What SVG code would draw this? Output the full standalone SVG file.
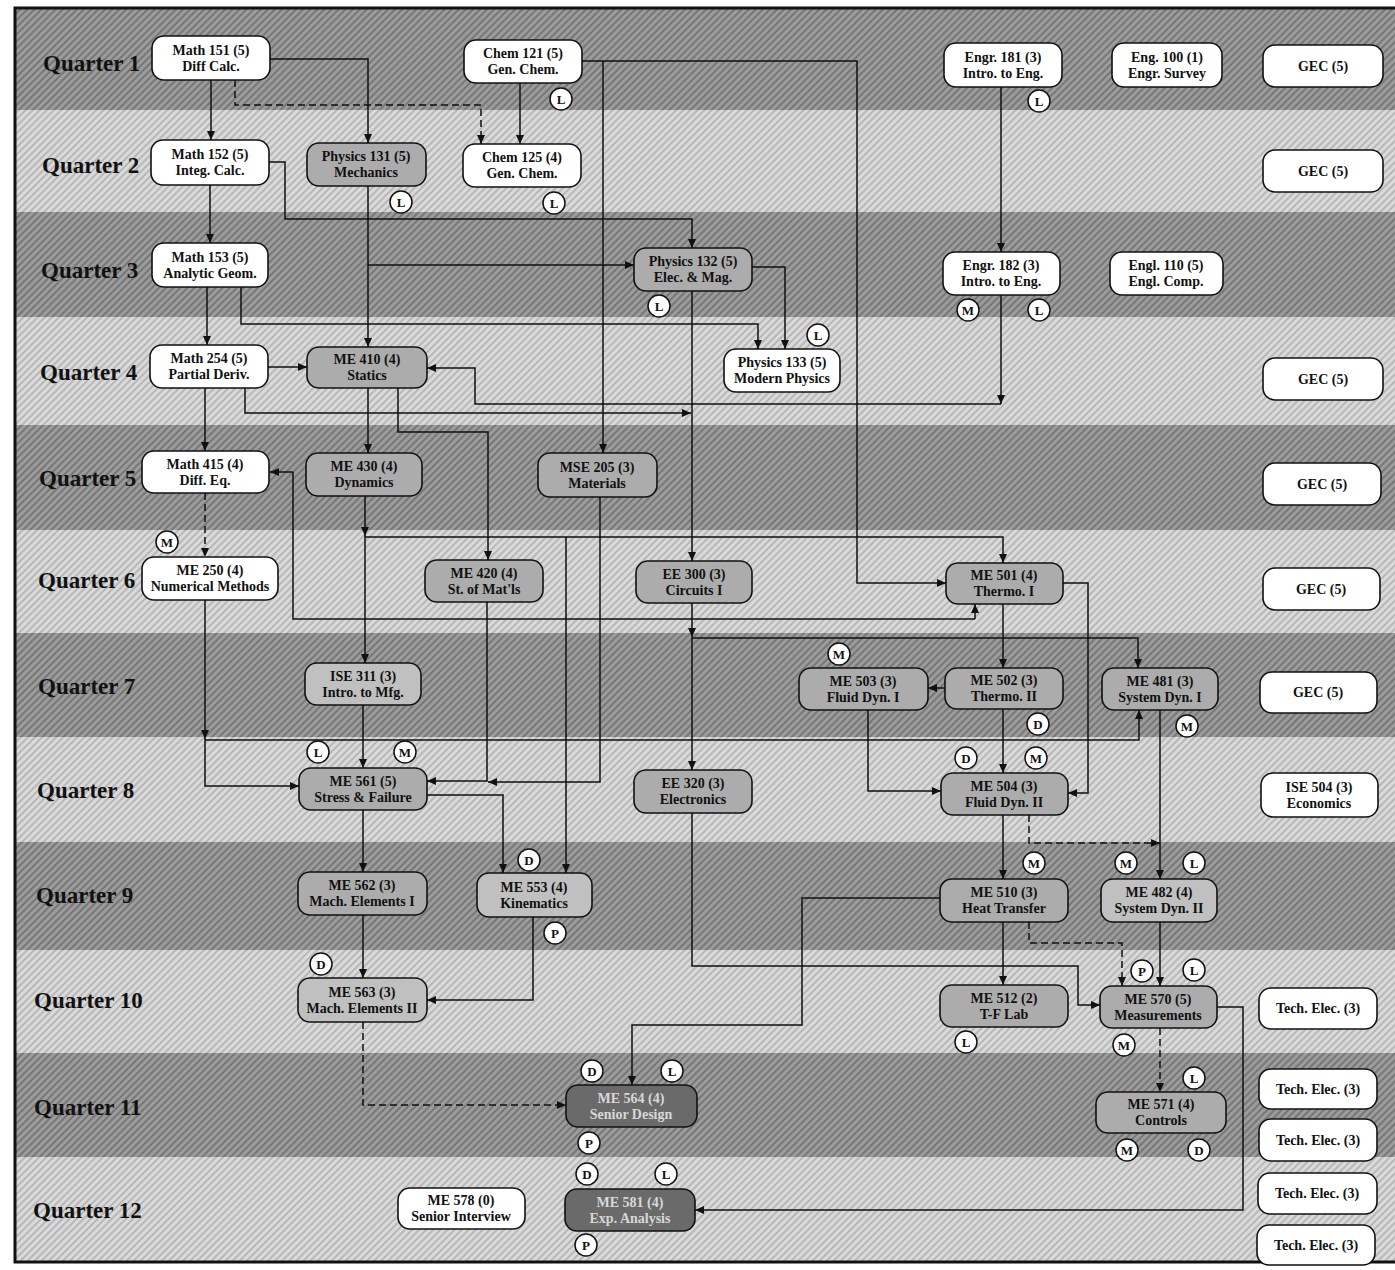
<svg xmlns="http://www.w3.org/2000/svg" width="1395" height="1270" viewBox="0 0 1395 1270">
<defs>
<pattern id="hd" width="5" height="5" patternUnits="userSpaceOnUse" patternTransform="rotate(45)">
<rect width="5" height="5" fill="#9c9c9c"/><line x1="1" y1="0" x2="1" y2="5" stroke="#6e6e6e" stroke-width="1.6"/>
</pattern>
<pattern id="hl" width="5" height="5" patternUnits="userSpaceOnUse" patternTransform="rotate(45)">
<rect width="5" height="5" fill="#dadada"/><line x1="1" y1="0" x2="1" y2="5" stroke="#a9a9a9" stroke-width="1.4"/>
</pattern>
<marker id="ar" markerUnits="userSpaceOnUse" markerWidth="10" markerHeight="8" refX="9" refY="4" orient="auto-start-reverse">
<path d="M0,0 L9,4 L0,8 z" fill="#111"/>
</marker>
<style>
.q{font:bold 23px "Liberation Serif",serif;fill:#111}
.n text{font:bold 14px "Liberation Serif",serif;text-anchor:middle;fill:#111}
.n .lt{fill:#d8d8d8}
.box{stroke:#111;stroke-width:1.6}
.w{fill:#fff}.g{fill:#acacac}.lg{fill:#c0c0c0}.dk{fill:#6a6a6a}
.c path{fill:none;stroke:#111;stroke-width:1.5;marker-end:url(#ar)}
.c path.nm{marker-end:none}
.c path.d{stroke-dasharray:7 4}
.b circle{fill:#fff;stroke:#111;stroke-width:1.5}
.b text{font:bold 13px "Liberation Serif",serif;text-anchor:middle;fill:#111}
</style>
</defs>
<rect width="1395" height="1270" fill="#fff"/>
<g id="bands">
<rect x="15" y="8" width="1380" height="102" fill="url(#hd)"/>
<rect x="15" y="110" width="1380" height="102" fill="url(#hl)"/>
<rect x="15" y="212" width="1380" height="105" fill="url(#hd)"/>
<rect x="15" y="317" width="1380" height="108" fill="url(#hl)"/>
<rect x="15" y="425" width="1380" height="105" fill="url(#hd)"/>
<rect x="15" y="530" width="1380" height="103" fill="url(#hl)"/>
<rect x="15" y="633" width="1380" height="104" fill="url(#hd)"/>
<rect x="15" y="737" width="1380" height="105" fill="url(#hl)"/>
<rect x="15" y="842" width="1380" height="108" fill="url(#hd)"/>
<rect x="15" y="950" width="1380" height="103" fill="url(#hl)"/>
<rect x="15" y="1053" width="1380" height="104" fill="url(#hd)"/>
<rect x="15" y="1157" width="1380" height="105" fill="url(#hl)"/>
<rect x="15" y="8" width="1385" height="1254" fill="none" stroke="#111" stroke-width="3"/>
</g>
<g id="quarters">
<text class="q" x="43" y="71">Quarter 1</text>
<text class="q" x="42" y="173">Quarter 2</text>
<text class="q" x="41" y="278">Quarter 3</text>
<text class="q" x="40" y="380">Quarter 4</text>
<text class="q" x="39" y="486">Quarter 5</text>
<text class="q" x="38" y="588">Quarter 6</text>
<text class="q" x="38" y="694">Quarter 7</text>
<text class="q" x="37" y="798">Quarter 8</text>
<text class="q" x="36" y="903">Quarter 9</text>
<text class="q" x="34" y="1008">Quarter 10</text>
<text class="q" x="34" y="1115">Quarter 11</text>
<text class="q" x="33" y="1218">Quarter 12</text>
</g>
<g id="connectors" class="c">
<path d="M211,80 V140"/>
<path d="M270,59 H368 V143"/>
<path class="d" d="M235,80 V105 H481 V144"/>
<path d="M520,83 V144"/>
<path d="M582,61 H857 V583 H946"/>
<path d="M603,61 V453"/>
<path d="M1001,87 V252"/>
<path d="M1001,295 V404"/>
<path d="M1001,404 H475 V368 H427"/>
<path d="M210,185 V243"/>
<path d="M269,162 H285 V219 H692 V248"/>
<path d="M368,186 V347"/>
<path d="M368,265 H634"/>
<path d="M207,287 V345"/>
<path d="M241,287 V324 H758 V349"/>
<path d="M752,267 H785 V349"/>
<path d="M692,291 V561"/>
<path d="M268,367 H307"/>
<path d="M205,388 V451"/>
<path d="M245,388 V413 H691"/>
<path d="M368,388 V453"/>
<path d="M398,388 V432 H488 V560"/>
<path class="d" d="M205,493 V557"/>
<path class="nm" d="M293,472 V619 H975"/>
<path d="M293,472 H270"/>
<path d="M975,619 V604"/>
<path d="M365,496 V536"/>
<path d="M365,536 V663"/>
<path d="M365,537 H1003 V563"/>
<path d="M566,537 V873"/>
<path d="M600,497 V782 H488"/>
<path d="M487,602 V781 H427"/>
<path d="M205,600 V739"/>
<path d="M205,739 V786 H299"/>
<path d="M205,740 H1139 V710"/>
<path d="M363,705 V768"/>
<path d="M692,603 V637"/>
<path d="M692,637 V770"/>
<path d="M692,638 H1138 V668"/>
<path d="M1003,604 V668"/>
<path d="M1063,583 H1088 V793 H1068"/>
<path d="M945,688 H928"/>
<path d="M1003,709 V773"/>
<path d="M868,710 V791 H941"/>
<path d="M1160,710 V879"/>
<path d="M1003,815 V879"/>
<path class="d" d="M1029,815 V843 H1160"/>
<path d="M363,810 V872"/>
<path d="M427,795 H503 V873"/>
<path d="M363,915 V978"/>
<path d="M533,917 V1000 H427"/>
<path class="d" d="M363,1022 V1105 H566"/>
<path d="M1003,922 V985"/>
<path class="d" d="M1029,922 V943 H1122 V986"/>
<path d="M1160,922 V986"/>
<path d="M940,898 H802 V1025 H632 V1085"/>
<path d="M692,813 V966 H1078 V1005 H1100"/>
<path class="d" d="M1160,1028 V1092"/>
<path d="M1217,1007 H1243 V1210 H695"/>
</g>
<g id="nodes">
<g id="math151" class="n"><rect class="box w" x="152" y="36" width="118" height="44" rx="12"/><text x="211" y="55">Math 151 (5)</text><text x="211" y="71">Diff Calc.</text></g>
<g id="chem121" class="n"><rect class="box w" x="464" y="40" width="118" height="43" rx="12"/><text x="523" y="58">Chem 121 (5)</text><text x="523" y="74">Gen. Chem.</text></g>
<g id="engr181" class="n"><rect class="box w" x="944" y="43" width="118" height="44" rx="12"/><text x="1003" y="62">Engr. 181 (3)</text><text x="1003" y="78">Intro. to Eng.</text></g>
<g id="eng100" class="n"><rect class="box w" x="1112" y="43" width="110" height="44" rx="12"/><text x="1167" y="62">Eng. 100 (1)</text><text x="1167" y="78">Engr. Survey</text></g>
<g id="gec1" class="n"><rect class="box w" x="1263" y="45" width="120" height="42" rx="12"/><text x="1323" y="71">GEC (5)</text></g>
<g id="math152" class="n"><rect class="box w" x="151" y="140" width="118" height="45" rx="12"/><text x="210" y="159">Math 152 (5)</text><text x="210" y="175">Integ. Calc.</text></g>
<g id="physics131" class="n"><rect class="box g" x="307" y="143" width="119" height="43" rx="12"/><text x="366" y="161">Physics 131 (5)</text><text x="366" y="177">Mechanics</text></g>
<g id="chem125" class="n"><rect class="box w" x="463" y="144" width="118" height="43" rx="12"/><text x="522" y="162">Chem 125 (4)</text><text x="522" y="178">Gen. Chem.</text></g>
<g id="gec2" class="n"><rect class="box w" x="1263" y="150" width="120" height="42" rx="12"/><text x="1323" y="176">GEC (5)</text></g>
<g id="math153" class="n"><rect class="box w" x="152" y="243" width="116" height="44" rx="12"/><text x="210" y="262">Math 153 (5)</text><text x="210" y="278">Analytic Geom.</text></g>
<g id="physics132" class="n"><rect class="box g" x="634" y="248" width="118" height="43" rx="12"/><text x="693" y="266">Physics 132 (5)</text><text x="693" y="282">Elec. &amp; Mag.</text></g>
<g id="engr182" class="n"><rect class="box w" x="943" y="252" width="117" height="43" rx="12"/><text x="1001" y="270">Engr. 182 (3)</text><text x="1001" y="286">Intro. to Eng.</text></g>
<g id="engl110" class="n"><rect class="box w" x="1110" y="252" width="113" height="43" rx="12"/><text x="1166" y="270">Engl. 110 (5)</text><text x="1166" y="286">Engl. Comp.</text></g>
<g id="math254" class="n"><rect class="box w" x="150" y="345" width="118" height="43" rx="12"/><text x="209" y="363">Math 254 (5)</text><text x="209" y="379">Partial Deriv.</text></g>
<g id="me410" class="n"><rect class="box g" x="307" y="347" width="120" height="41" rx="12"/><text x="367" y="364">ME 410 (4)</text><text x="367" y="380">Statics</text></g>
<g id="physics133" class="n"><rect class="box w" x="724" y="349" width="116" height="43" rx="12"/><text x="782" y="367">Physics 133 (5)</text><text x="782" y="383">Modern Physics</text></g>
<g id="gec4" class="n"><rect class="box w" x="1263" y="358" width="120" height="42" rx="12"/><text x="1323" y="384">GEC (5)</text></g>
<g id="math415" class="n"><rect class="box w" x="142" y="451" width="127" height="42" rx="12"/><text x="205" y="469">Math 415 (4)</text><text x="205" y="485">Diff. Eq.</text></g>
<g id="me430" class="n"><rect class="box g" x="306" y="453" width="116" height="43" rx="12"/><text x="364" y="471">ME 430 (4)</text><text x="364" y="487">Dynamics</text></g>
<g id="mse205" class="n"><rect class="box g" x="538" y="453" width="119" height="44" rx="12"/><text x="597" y="472">MSE 205 (3)</text><text x="597" y="488">Materials</text></g>
<g id="gec5" class="n"><rect class="box w" x="1263" y="463" width="118" height="42" rx="12"/><text x="1322" y="489">GEC (5)</text></g>
<g id="me250" class="n"><rect class="box w" x="142" y="557" width="136" height="43" rx="12"/><text x="210" y="575">ME 250 (4)</text><text x="210" y="591">Numerical Methods</text></g>
<g id="me420" class="n"><rect class="box g" x="425" y="560" width="118" height="42" rx="12"/><text x="484" y="578">ME 420 (4)</text><text x="484" y="594">St. of Mat'ls</text></g>
<g id="ee300" class="n"><rect class="box g" x="636" y="561" width="116" height="42" rx="12"/><text x="694" y="579">EE 300 (3)</text><text x="694" y="595">Circuits I</text></g>
<g id="me501" class="n"><rect class="box g" x="946" y="563" width="117" height="41" rx="12"/><text x="1004" y="580">ME 501 (4)</text><text x="1004" y="596">Thermo. I</text></g>
<g id="gec6" class="n"><rect class="box w" x="1263" y="568" width="117" height="42" rx="12"/><text x="1321" y="594">GEC (5)</text></g>
<g id="ise311" class="n"><rect class="box lg" x="305" y="663" width="116" height="42" rx="12"/><text x="363" y="681">ISE 311 (3)</text><text x="363" y="697">Intro. to Mfg.</text></g>
<g id="me503" class="n"><rect class="box g" x="799" y="668" width="129" height="42" rx="12"/><text x="863" y="686">ME 503 (3)</text><text x="863" y="702">Fluid Dyn. I</text></g>
<g id="me502" class="n"><rect class="box g" x="945" y="668" width="118" height="41" rx="12"/><text x="1004" y="685">ME 502 (3)</text><text x="1004" y="701">Thermo. II</text></g>
<g id="me481" class="n"><rect class="box g" x="1102" y="668" width="116" height="42" rx="12"/><text x="1160" y="686">ME 481 (3)</text><text x="1160" y="702">System Dyn. I</text></g>
<g id="gec7" class="n"><rect class="box w" x="1260" y="672" width="117" height="41" rx="12"/><text x="1318" y="697">GEC (5)</text></g>
<g id="me561" class="n"><rect class="box g" x="299" y="768" width="128" height="42" rx="12"/><text x="363" y="786">ME 561 (5)</text><text x="363" y="802">Stress &amp; Failure</text></g>
<g id="ee320" class="n"><rect class="box g" x="634" y="770" width="118" height="43" rx="12"/><text x="693" y="788">EE 320 (3)</text><text x="693" y="804">Electronics</text></g>
<g id="me504" class="n"><rect class="box g" x="941" y="773" width="127" height="42" rx="12"/><text x="1004" y="791">ME 504 (3)</text><text x="1004" y="807">Fluid Dyn. II</text></g>
<g id="ise504" class="n"><rect class="box w" x="1261" y="773" width="117" height="44" rx="12"/><text x="1319" y="792">ISE 504 (3)</text><text x="1319" y="808">Economics</text></g>
<g id="me562" class="n"><rect class="box g" x="298" y="872" width="129" height="43" rx="12"/><text x="362" y="890">ME 562 (3)</text><text x="362" y="906">Mach. Elements I</text></g>
<g id="me553" class="n"><rect class="box lg" x="477" y="873" width="115" height="44" rx="12"/><text x="534" y="892">ME 553 (4)</text><text x="534" y="908">Kinematics</text></g>
<g id="me510" class="n"><rect class="box g" x="940" y="879" width="128" height="43" rx="12"/><text x="1004" y="897">ME 510 (3)</text><text x="1004" y="913">Heat Transfer</text></g>
<g id="me482" class="n"><rect class="box lg" x="1101" y="879" width="116" height="43" rx="12"/><text x="1159" y="897">ME 482 (4)</text><text x="1159" y="913">System Dyn. II</text></g>
<g id="me563" class="n"><rect class="box lg" x="298" y="978" width="129" height="44" rx="12"/><text x="362" y="997">ME 563 (3)</text><text x="362" y="1013">Mach. Elements II</text></g>
<g id="me512" class="n"><rect class="box g" x="940" y="985" width="128" height="42" rx="12"/><text x="1004" y="1003">ME 512 (2)</text><text x="1004" y="1019">T-F Lab</text></g>
<g id="me570" class="n"><rect class="box g" x="1100" y="986" width="117" height="42" rx="12"/><text x="1158" y="1004">ME 570 (5)</text><text x="1158" y="1020">Measurements</text></g>
<g id="te1" class="n"><rect class="box w" x="1259" y="988" width="118" height="41" rx="12"/><text x="1318" y="1013">Tech. Elec. (3)</text></g>
<g id="me564" class="n"><rect class="box dk" x="566" y="1085" width="131" height="42" rx="12"/><text class="lt" x="631" y="1103">ME 564 (4)</text><text class="lt" x="631" y="1119">Senior Design</text></g>
<g id="me571" class="n"><rect class="box g" x="1096" y="1092" width="130" height="41" rx="12"/><text x="1161" y="1109">ME 571 (4)</text><text x="1161" y="1125">Controls</text></g>
<g id="te2" class="n"><rect class="box w" x="1259" y="1069" width="118" height="40" rx="12"/><text x="1318" y="1094">Tech. Elec. (3)</text></g>
<g id="te3" class="n"><rect class="box w" x="1259" y="1119" width="118" height="42" rx="12"/><text x="1318" y="1145">Tech. Elec. (3)</text></g>
<g id="me578" class="n"><rect class="box w" x="398" y="1188" width="127" height="41" rx="12"/><text x="461" y="1205">ME 578 (0)</text><text x="461" y="1221">Senior Interview</text></g>
<g id="me581" class="n"><rect class="box dk" x="565" y="1189" width="130" height="42" rx="12"/><text class="lt" x="630" y="1207">ME 581 (4)</text><text class="lt" x="630" y="1223">Exp. Analysis</text></g>
<g id="te4" class="n"><rect class="box w" x="1258" y="1173" width="119" height="41" rx="12"/><text x="1317" y="1198">Tech. Elec. (3)</text></g>
<g id="te5" class="n"><rect class="box w" x="1257" y="1225" width="118" height="40" rx="12"/><text x="1316" y="1250">Tech. Elec. (3)</text></g>
</g>
<g id="badges" class="b">
<g><circle cx="561" cy="99" r="11"/><text x="561" y="103.5">L</text></g>
<g><circle cx="1039" cy="101" r="11"/><text x="1039" y="105.5">L</text></g>
<g><circle cx="401" cy="202" r="11"/><text x="401" y="206.5">L</text></g>
<g><circle cx="554" cy="203" r="11"/><text x="554" y="207.5">L</text></g>
<g><circle cx="659" cy="306" r="11"/><text x="659" y="310.5">L</text></g>
<g><circle cx="818" cy="335" r="11"/><text x="818" y="339.5">L</text></g>
<g><circle cx="968" cy="310" r="11"/><text x="968" y="314.5">M</text></g>
<g><circle cx="1039" cy="310" r="11"/><text x="1039" y="314.5">L</text></g>
<g><circle cx="167" cy="542" r="11"/><text x="167" y="546.5">M</text></g>
<g><circle cx="839" cy="654" r="11"/><text x="839" y="658.5">M</text></g>
<g><circle cx="1038" cy="724" r="11"/><text x="1038" y="728.5">D</text></g>
<g><circle cx="1187" cy="726" r="11"/><text x="1187" y="730.5">M</text></g>
<g><circle cx="318" cy="752" r="11"/><text x="318" y="756.5">L</text></g>
<g><circle cx="405" cy="752" r="11"/><text x="405" y="756.5">M</text></g>
<g><circle cx="966" cy="758" r="11"/><text x="966" y="762.5">D</text></g>
<g><circle cx="1036" cy="758" r="11"/><text x="1036" y="762.5">M</text></g>
<g><circle cx="529" cy="860" r="11"/><text x="529" y="864.5">D</text></g>
<g><circle cx="1034" cy="863" r="11"/><text x="1034" y="867.5">M</text></g>
<g><circle cx="1126" cy="863" r="11"/><text x="1126" y="867.5">M</text></g>
<g><circle cx="1194" cy="863" r="11"/><text x="1194" y="867.5">L</text></g>
<g><circle cx="555" cy="933" r="11"/><text x="555" y="937.5">P</text></g>
<g><circle cx="321" cy="964" r="11"/><text x="321" y="968.5">D</text></g>
<g><circle cx="1142" cy="971" r="11"/><text x="1142" y="975.5">P</text></g>
<g><circle cx="1194" cy="970" r="11"/><text x="1194" y="974.5">L</text></g>
<g><circle cx="966" cy="1042" r="11"/><text x="966" y="1046.5">L</text></g>
<g><circle cx="1124" cy="1045" r="11"/><text x="1124" y="1049.5">M</text></g>
<g><circle cx="1194" cy="1078" r="11"/><text x="1194" y="1082.5">L</text></g>
<g><circle cx="592" cy="1071" r="11"/><text x="592" y="1075.5">D</text></g>
<g><circle cx="672" cy="1071" r="11"/><text x="672" y="1075.5">L</text></g>
<g><circle cx="589" cy="1143" r="11"/><text x="589" y="1147.5">P</text></g>
<g><circle cx="1127" cy="1150" r="11"/><text x="1127" y="1154.5">M</text></g>
<g><circle cx="1199" cy="1150" r="11"/><text x="1199" y="1154.5">D</text></g>
<g><circle cx="587" cy="1174" r="11"/><text x="587" y="1178.5">D</text></g>
<g><circle cx="666" cy="1174" r="11"/><text x="666" y="1178.5">L</text></g>
<g><circle cx="586" cy="1245" r="11"/><text x="586" y="1249.5">P</text></g>
</g>
</svg>
